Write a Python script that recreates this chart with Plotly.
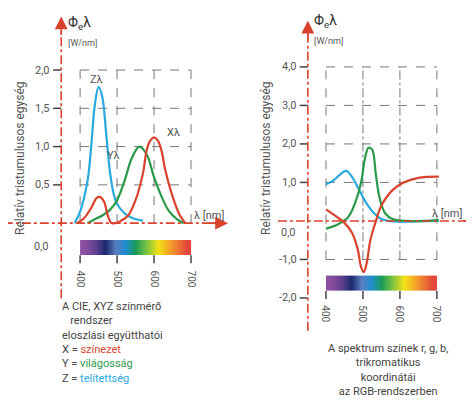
import plotly.graph_objects as go

# --- data ---
# left panel: CIE XYZ colour matching functions
x_bar_wl = [392, 410, 430, 445, 455, 465, 475, 485, 495, 510, 530, 550, 570, 580, 590, 600, 610, 620, 630, 650, 670, 685]
x_bar = [0.0, 0.06, 0.2, 0.33, 0.34, 0.28, 0.1, 0.0, 0.0, 0.03, 0.1, 0.3, 0.65, 0.95, 1.08, 1.12, 1.08, 0.95, 0.7, 0.35, 0.1, 0.0]
y_bar_wl = [420, 440, 460, 480, 500, 520, 540, 560, 580, 600, 620, 640, 660, 680]
y_bar = [0.0, 0.05, 0.1, 0.17, 0.3, 0.55, 0.85, 1.0, 0.9, 0.6, 0.35, 0.16, 0.06, 0.0]
z_bar_wl = [385, 400, 420, 430, 440, 450, 460, 470, 480, 490, 500, 520, 540, 570]
z_bar = [0.0, 0.15, 0.55, 1.0, 1.55, 1.78, 1.65, 1.2, 0.7, 0.4, 0.25, 0.13, 0.07, 0.03]

# right panel: r, g, b colour matching functions
r_wl = [400, 430, 450, 470, 485, 495, 502, 510, 520, 535, 550, 580, 610, 650, 705]
r_val = [0.3, 0.1, -0.05, -0.3, -0.7, -1.2, -1.33, -1.1, -0.5, 0.0, 0.4, 0.8, 1.0, 1.12, 1.15]
g_wl = [400, 430, 460, 480, 495, 505, 515, 525, 535, 545, 560, 580, 620, 705]
g_val = [-0.2, -0.1, 0.1, 0.5, 1.0, 1.6, 1.9, 1.85, 1.2, 0.6, 0.2, 0.05, 0.0, 0.02]
b_wl = [400, 420, 440, 455, 470, 490, 510, 530, 550, 570, 600, 705]
b_val = [0.95, 1.05, 1.22, 1.3, 1.15, 0.8, 0.45, 0.2, 0.05, 0.0, -0.02, 0.0]

# strip cell edges and the colour value of each cell
spectrum_edges = [400, 425, 450, 475, 500, 525, 550, 575, 600, 625, 650, 675, 700]
spectrum_cells = [412, 437, 462, 487, 512, 537, 562, 587, 612, 637, 662, 687]
wl_ticks = [400, 500, 600, 700]
left_yticks = [0.5, 1.0, 1.5, 2.0]
right_yticks = [-2.0, -1.0, 1.0, 2.0, 3.0, 4.0]

RED = "#d9432e"
GREEN = "#2a9a4a"
BLUE = "#2aa9dc"
DARK = "#444444"
GRID = "#777777"
TXT = "#555555"
FONT = "Roboto"

spectrum_scale = [
    [0.0, "#8a4f9e"], [0.12, "#5a3f8f"], [0.2, "#1e2a6e"], [0.3, "#5a7fc0"],
    [0.4, "#1f8ed0"], [0.5, "#1a9a5a"], [0.6, "#7cc242"], [0.72, "#f2e316"],
    [0.85, "#f39a2b"], [1.0, "#e2453a"],
]

W, H = 474, 402
fig = go.Figure()

# pixel geometry of the two panels
panels = {
    "left": dict(xa="x", ya="y", xr=[205, 846], yr=[-2.44, 2.81], ax_wl=349,
                 px_per_unit=76.5, strip=(-0.22, -0.42)),
    "right": dict(xa="x2", ya="y2", xr=[181, 822], yr=[-4.91, 5.53], ax_wl=351,
                  px_per_unit=38.5, strip=(-1.42, -1.82)),
}

def line(p, x0, y0, x1, y1, color=GRID, width=1, dash="dash"):
    fig.add_shape(type="line", xref=p["xa"], yref=p["ya"], x0=x0, y0=y0, x1=x1, y1=y1,
                  line=dict(color=color, width=width, dash=dash), layer="below")

def txt(p, x, y, s, size=11, color=TXT, **kw):
    fig.add_annotation(xref=p["xa"], yref=p["ya"], x=x, y=y, text=s, showarrow=False,
                       font=dict(family=FONT, size=size, color=color), **kw)

# left grid
L = panels["left"]
for wl in wl_ticks:
    line(L, wl, 0, wl, 2.0)
for v in left_yticks:
    line(L, 400, v, 700, v)
# right grid
R = panels["right"]
for wl in wl_ticks:
    line(R, wl, -1.0, wl, 4.0, dash="dashdot" if wl in (500, 600) else "dash")
for v in [-1.0, 1.0, 2.0, 3.0, 4.0]:
    line(R, 400, v, 700, v)

# curves
for wl, val, col, p in [
    (z_bar_wl, z_bar, BLUE, L), (y_bar_wl, y_bar, GREEN, L), (x_bar_wl, x_bar, RED, L),
    (b_wl, b_val, BLUE, R), (g_wl, g_val, GREEN, R), (r_wl, r_val, RED, R),
]:
    fig.add_trace(go.Scatter(x=wl, y=val, mode="lines", line=dict(color=col, width=2.2, shape="spline"),
                             xaxis=p["xa"], yaxis=p["ya"], showlegend=False, hoverinfo="skip"))

# spectrum strips
for p in (L, R):
    y0, y1 = p["strip"]
    fig.add_trace(go.Heatmap(x=spectrum_edges, y=[y1, y0], z=[spectrum_cells],
                             colorscale=spectrum_scale, showscale=False, zsmooth="best",
                             xaxis=p["xa"], yaxis=p["ya"], hoverinfo="skip"))
    tick_len = 8 / p["px_per_unit"]
    for wl in wl_ticks:
        line(p, wl, y1, wl, y1 - tick_len, color=DARK, width=1.5, dash="solid")
        txt(p, wl, y1 - 1.6 * tick_len, str(wl), size=10, textangle=90, yanchor="top")

# red axes
fig.add_shape(type="line", xref="x", yref="y", x0=145, y0=0, x1=790, y1=0,
              line=dict(color=RED, width=1.6, dash="dashdot"))
fig.add_shape(type="line", xref="x", yref="y", x0=349, y0=-0.98, x1=349, y1=2.65,
              line=dict(color=RED, width=1.6, dash="dashdot"))
fig.add_shape(type="line", xref="x2", yref="y2", x0=270, y0=0, x1=810, y1=0,
              line=dict(color=RED, width=1.6, dash="dashdot"))
fig.add_shape(type="line", xref="x2", yref="y2", x0=351, y0=-2.85, x1=351, y1=5.1,
              line=dict(color=RED, width=1.6, dash="dashdot"))
for xa, ya, x, y, ax, ay in [("x", "y", 800, 0, -20, 0), ("x", "y", 349, 2.7, 0, 20),
                             ("x2", "y2", 822, 0, -20, 0), ("x2", "y2", 351, 5.2, 0, 20)]:
    fig.add_annotation(xref=xa, yref=ya, x=x, y=y, ax=ax, ay=ay, text="", showarrow=True,
                       arrowhead=2, arrowsize=1.6, arrowwidth=1.6, arrowcolor=RED)

# y ticks
for p, vals in ((L, left_yticks), (R, right_yticks)):
    for v in vals:
        line(p, p["ax_wl"] - 22, v, p["ax_wl"], v, color=DARK, width=1.5, dash="solid")
        txt(p, p["ax_wl"] - 24, v, f"{v:.1f}".replace(".", ","), xanchor="right")
txt(L, 320, -0.3, "0,0", xanchor="right")
txt(R, 325, -0.3, "0,0", xanchor="right")

# labels
txt(L, 443, 1.88, "Zλ", size=11)
txt(L, 490, 0.88, "Yλ", size=11)
txt(L, 652, 1.18, "Xλ", size=11)
for p, y_phi in ((L, 2.62), (R, 5.2)):
    txt(p, p["ax_wl"] + 12, y_phi, "Φ<sub>e</sub>λ", size=14, color="#333", xanchor="left")
    txt(p, p["ax_wl"] + 12, y_phi - 20 / p["px_per_unit"], "[W/nm]", size=9, xanchor="left")
txt(L, 703, 0.1, "λ [nm]", size=11, xanchor="left")
txt(R, 680, 0.2, "λ [nm]", size=11, xanchor="left")

for xp in (12, 258):
    fig.add_annotation(xref="paper", yref="paper", x=xp / W, y=1 - 150 / H, text="Relatív tristumulusos egység",
                       showarrow=False, textangle=-90, xanchor="center", yanchor="middle",
                       font=dict(family=FONT, size=12, color=TXT))

fig.add_annotation(xref="paper", yref="paper", x=52 / W, y=1 - 290 / H, xanchor="left", yanchor="top",
                   align="left", showarrow=False, font=dict(family=FONT, size=11, color="#444"),
                   text="A CIE, XYZ színmérő<br>   rendszer<br>eloszlási együtthatói<br>"
                        f"X = <span style='color:{RED}'>színezet</span><br>"
                        f"Y = <span style='color:{GREEN}'>világosság</span><br>"
                        f"Z = <span style='color:{BLUE}'>telítettség</span>")
fig.add_annotation(xref="paper", yref="paper", x=318 / W, y=1 - 332 / H, xanchor="left", yanchor="top",
                   align="center", showarrow=False, font=dict(family=FONT, size=11, color="#444"),
                   text="A spektrum színek r, g, b,<br>trikromatikus<br>koordinátái<br>az RGB-rendszerben")

ax_off = dict(showgrid=False, zeroline=False, showticklabels=False, ticks="", fixedrange=True)
fig.update_layout(
    width=W, height=H, margin=dict(l=0, r=0, t=0, b=0),
    paper_bgcolor="white", plot_bgcolor="white",
    xaxis=dict(domain=[0, 0.5], range=L["xr"], **ax_off),
    yaxis=dict(domain=[0, 1], range=L["yr"], **ax_off),
    xaxis2=dict(domain=[0.5, 1], range=R["xr"], anchor="y2", **ax_off),
    yaxis2=dict(domain=[0, 1], range=R["yr"], anchor="x2", **ax_off),
)
fig.write_html("out.html")
